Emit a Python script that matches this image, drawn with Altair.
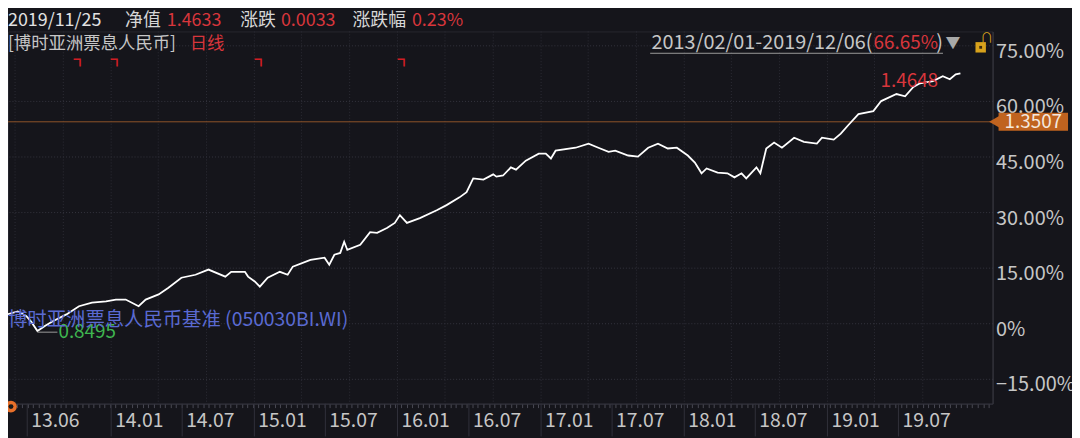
import altair as alt
import pandas as pd

# ---------------- data ----------------
dates = ["2013-03-23", "2013-04-10", "2013-05-08", "2013-05-30", "2013-06-12", "2013-06-27",
         "2013-07-15", "2013-08-04", "2013-09-09", "2013-10-11", "2013-11-13", "2013-12-19",
         "2014-01-13", "2014-02-07", "2014-03-12", "2014-03-30", "2014-05-02", "2014-05-27",
         "2014-06-29", "2014-08-04", "2014-09-06", "2014-10-19", "2014-11-03", "2014-12-08",
         "2014-12-16", "2015-01-02", "2015-01-15", "2015-02-04", "2015-03-07", "2015-03-27",
         "2015-04-09", "2015-05-24", "2015-06-29", "2015-07-11", "2015-07-24", "2015-08-08",
         "2015-08-18", "2015-08-26", "2015-09-28", "2015-10-23", "2015-11-10", "2015-12-05",
         "2015-12-25", "2016-01-07", "2016-01-25", "2016-02-27", "2016-04-10", "2016-05-05",
         "2016-06-07", "2016-06-25", "2016-07-12", "2016-08-07", "2016-09-01", "2016-09-09",
         "2016-09-26", "2016-10-16", "2016-10-29", "2016-11-23", "2016-12-26", "2017-01-13",
         "2017-01-26", "2017-02-07", "2017-03-30", "2017-05-02", "2017-05-27", "2017-06-22",
         "2017-07-09", "2017-08-11", "2017-09-05", "2017-10-01", "2017-10-26", "2017-11-20",
         "2017-12-13", "2018-01-10", "2018-01-28", "2018-02-14", "2018-02-27", "2018-03-27",
         "2018-04-21", "2018-05-09", "2018-05-27", "2018-06-08", "2018-07-04", "2018-07-14",
         "2018-07-29", "2018-08-18", "2018-09-07", "2018-10-08", "2018-11-02", "2018-12-05",
         "2018-12-18", "2019-01-17", "2019-02-04", "2019-02-24", "2019-03-21", "2019-04-28",
         "2019-05-18", "2019-06-26", "2019-07-18", "2019-08-08", "2019-08-25", "2019-09-27",
         "2019-10-22", "2019-11-09", "2019-11-24", "2019-12-06"]
values = [1.1, 2.4, 3.2, 1.9, 0.3, -2.1, -0.8, 0.5, 2.4, 4.6,
          5.6, 5.9, 6.4, 6.4, 4.6, 6.4, 7.8, 9.6, 12.3, 13.1,
          14.5, 12.6, 13.9, 13.9, 12.6, 11.3, 9.9, 12.3, 13.9, 13.1,
          15.3, 17.1, 17.7, 15.8, 18.5, 19.0, 22.0, 19.8, 21.2, 24.6,
          24.4, 25.7, 27.1, 29.2, 27.1, 28.4, 30.5, 31.9, 34.0, 35.4,
          39.1, 38.8, 40.2, 39.6, 39.9, 42.1, 41.5, 43.9, 45.8, 45.8,
          44.5, 46.6, 47.4, 48.5, 47.4, 46.3, 46.6, 45.3, 45.0, 47.4,
          48.5, 47.2, 47.4, 45.3, 43.4, 40.5, 41.8, 40.7, 40.5, 39.4,
          40.5, 39.1, 42.1, 40.5, 47.2, 48.8, 47.4, 50.1, 49.0, 48.5,
          50.1, 49.6, 51.2, 53.6, 56.5, 57.3, 60.0, 61.9, 61.3, 63.8,
          64.8, 65.4, 66.7, 65.9, 67.2, 67.5]

tick_dates = ["2013-06-01", "2014-01-01", "2014-07-01", "2015-01-01", "2015-07-01",
              "2016-01-01", "2016-07-01", "2017-01-01", "2017-07-01", "2018-01-01",
              "2018-07-01", "2019-01-01", "2019-07-01"]
tick_labels = ["13.06", "14.01", "14.07", "15.01", "15.07", "16.01", "16.07",
               "17.01", "17.07", "18.01", "18.07", "19.01", "19.07"]
grid_dates = ["2013-05-01", "2013-09-01", "2014-01-01", "2014-05-01", "2014-09-01",
              "2015-01-01", "2015-05-01", "2015-09-01", "2016-01-01", "2016-05-01",
              "2016-09-01", "2017-01-01", "2017-05-01", "2017-09-01", "2018-01-01",
              "2018-05-01", "2018-09-01", "2019-01-01", "2019-05-01", "2019-09-01"]
y_ticks = [-15, 0, 15, 30, 45, 60, 75]
marker_dates = ["2013-10-06", "2014-01-08", "2015-01-10", "2016-01-10"]

ref_pct = [54.4]
ref_label = ["1.3507"]
min_date = ["2013-06-27"]
min_label_date = ["2013-08-17"]
min_pct = [-2.4]
min_label = ["0.8495"]
max_date = ["2019-10-10"]
max_pct = [65.4]
max_label = ["1.4648"]

# ---------------- styling ----------------
BG = "#15151b"
RED = "#d8363c"
GRAY = "#c6c6c6"
FONT = "Noto Sans CJK SC"

W, H = 992, 375

x_scale = alt.Scale(domain=[alt.DateTime(year=2013, month=4, date=13),
                            alt.DateTime(year=2020, month=2, date=26)], nice=False)
y_scale = alt.Scale(domain=[-21.7, 78.8], nice=False, zero=False)

df = pd.DataFrame({"date": pd.to_datetime(dates), "pct": values})

x_axis = alt.Axis(tickCount={"interval": "week", "step": 2}, labels=False, tickSize=4,
                  tickColor="#4a4a54", domain=True, domainColor="#34343e", grid=False,
                  title=None)
y_axis = alt.Axis(orient="right", values=y_ticks,
                  labelExpr="datum.value == 0 ? '0%' : format(datum.value, '.2f') + '%'",
                  grid=True, gridDash=[1, 2], gridColor="#34343e", ticks=False, domain=True,
                  domainColor="#3a3a44", labelColor=GRAY, labelFont=FONT, labelFontSize=20,
                  labelPadding=3, labelOffset=6, labelAlign="left", labelFlush=False,
                  labelOverlap=False, title=None)


def X(field="date"):
    return alt.X(f"{field}:T", scale=x_scale, axis=x_axis)


def Y():
    return alt.Y("pct:Q", scale=y_scale, axis=y_axis)


# vertical dotted grid
vgrid = alt.Chart(pd.DataFrame({"date": pd.to_datetime(grid_dates)})).mark_rule(
    color="#2c2c35", strokeDash=[1, 2], strokeWidth=1).encode(x=X())

# orange reference line
ref_df = pd.DataFrame({"pct": ref_pct, "t": ref_label})
ref_line = alt.Chart(ref_df).mark_rule(color="#8f5428", strokeWidth=1).encode(y=Y())

# main line
line = alt.Chart(df).mark_line(color="#ffffff", strokeWidth=1.8).encode(x=X(), y=Y())

# x axis separators and labels
tick_df = pd.DataFrame({"date": pd.to_datetime(tick_dates), "label": tick_labels})
seps = alt.Chart(tick_df).mark_rule(color="#30303a", strokeWidth=1).encode(
    x=X(), y=alt.value(H), y2=alt.value(H + 33))
xlabels = alt.Chart(tick_df).mark_text(align="left", baseline="middle", dx=4, fontSize=19.5,
                                       font=FONT, color=GRAY).encode(
    x=X(), y=alt.value(H + 18), text="label:N")

# red dividend markers
markers = alt.Chart(pd.DataFrame({"date": pd.to_datetime(marker_dates),
                                  "t": ["┓"] * len(marker_dates)})).mark_text(
    fontSize=13, fontWeight="bold", color="#d01e24", baseline="middle", font=FONT, dx=3).encode(
    x=X(), y=alt.value(29), text="t:N")

# min annotation
min_df = pd.DataFrame({"date": pd.to_datetime(min_date), "date2": pd.to_datetime(min_label_date),
                       "pct": min_pct, "t": min_label})
min_rule = alt.Chart(min_df).mark_rule(color="#9a9a9a", strokeWidth=1).encode(
    x=X(), x2="date2:T", y=Y())
min_text = alt.Chart(min_df).mark_text(align="left", baseline="middle", fontSize=19, font=FONT,
                                       color="#3fb650", dx=1).encode(
    x=X("date2"), y=Y(), text="t:N")

# max annotation
max_df = pd.DataFrame({"date": pd.to_datetime(max_date), "pct": max_pct, "t": max_label})
max_text = alt.Chart(max_df).mark_text(align="right", baseline="middle", fontSize=19, font=FONT,
                                       color=RED).encode(x=X(), y=Y(), text="t:N")

# orange price tag on the right
tag_box = alt.Chart(ref_df).mark_rule(color="#c0631f", strokeWidth=18, strokeCap="butt").encode(
    x=alt.value(998), x2=alt.value(1068), y=Y())
tag_tip = alt.Chart(ref_df).mark_point(shape="triangle-left", filled=True, color="#c0631f",
                                       size=160, opacity=1).encode(x=alt.value(994), y=Y())
tag_text = alt.Chart(ref_df).mark_text(align="center", baseline="middle", fontSize=19, font=FONT,
                                       color="#f4e8de").encode(x=alt.value(1033), y=Y(), text="t:N")


def label(txt, x, y, color, size=19, align="left"):
    return alt.Chart(pd.DataFrame({"t": [txt]})).mark_text(
        align=align, baseline="middle", color=color, fontSize=size, font=FONT).encode(
        text="t:N", x=alt.value(x), y=alt.value(y))


header = [
    label("2019/11/25", 0, -10, "#e2e2e2", 18),
    label("净值", 118, -10, "#d6d6d6", 18),
    label("1.4633", 160, -10, RED, 18),
    label("涨跌", 234, -10, "#d6d6d6", 18),
    label("0.0033", 275, -10, RED, 18),
    label("涨跌幅", 347, -10, "#d6d6d6", 18),
    label("0.23%", 407, -10, RED, 18),
    label("[博时亚洲票息人民币]", 0, 13, GRAY, 17.5),
    label("日线", 183, 13, RED, 17.5),
    label("2013/02/01-2019/12/06(", 871, 12, GRAY, 20, "right"),
    label("66.65%", 937, 12, RED, 19, "right"),
    label(")", 942, 12, GRAY, 20, "right"),
    label("▼", 952, 12, "#a8a8a8", 15, "center"),
    label("博时亚洲票息人民币基准 (050030BI.WI)", 0, 291, "#5a6ad2", 19.5),
]

underline = alt.Chart(pd.DataFrame({"t": [1]})).mark_rule(color="#9a9a9a", strokeWidth=1).encode(
    x=alt.value(647), x2=alt.value(942), y=alt.value(22))
lock = alt.Chart(pd.DataFrame({"t": [1]})).mark_point(shape="square", filled=True,
                                                     color="#d8a21c", size=110, opacity=1).encode(
    x=alt.value(980), y=alt.value(16))
lock_hole = alt.Chart(pd.DataFrame({"t": [1]})).mark_point(shape="square", filled=True,
                                                          color="#3a2a10", size=8, opacity=1).encode(
    x=alt.value(980), y=alt.value(16))
shackle = alt.Chart(pd.DataFrame({"t": ["∩"]})).mark_text(
    color="#d8a21c", fontSize=13, baseline="middle", font=FONT).encode(
    x=alt.value(986), y=alt.value(7), text="t:N")
icon = alt.Chart(pd.DataFrame({"t": [1]})).mark_point(shape="circle", filled=True,
                                                     color="#e8702a", size=140, opacity=1).encode(
    x=alt.value(3), y=alt.value(H + 3))
icon_dot = alt.Chart(pd.DataFrame({"t": [1]})).mark_point(shape="circle", filled=True,
                                                         color="#1a1a1a", size=25, opacity=1).encode(
    x=alt.value(3), y=alt.value(H + 3))

chart = alt.layer(
    vgrid, ref_line, line, seps, xlabels, markers, min_rule, min_text, max_text,
    tag_box, tag_tip, tag_text, underline, lock, lock_hole, shackle, icon, icon_dot, *header
).properties(
    width=W, height=H,
    autosize=alt.AutoSizeParams(type="none"),
    padding={"left": 0, "top": 22, "right": 80, "bottom": 33},
    background=BG,
).configure_view(stroke="#26262e", strokeWidth=1)

chart.save("out.html", embed_options={"renderer": "svg", "actions": False})
